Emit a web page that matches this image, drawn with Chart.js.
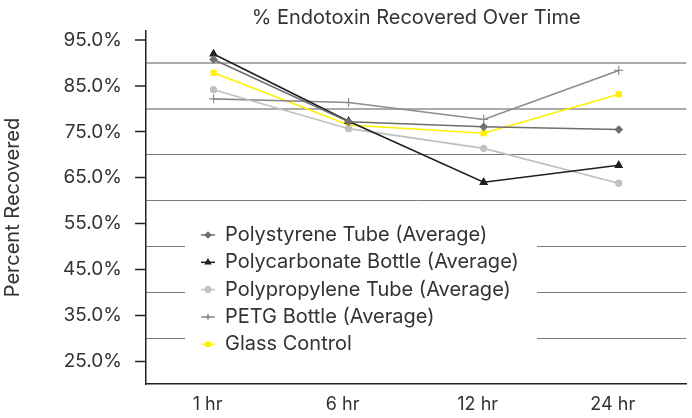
<!DOCTYPE html>
<html>
<head>
<meta charset="utf-8">
<script src="https://cdn.jsdelivr.net/npm/chart.js@4.4.1/dist/chart.umd.min.js"></script>
<style>
  html, body { margin: 0; padding: 0; background: #ffffff; }
  #wrap { width: 692px; height: 418px; }
</style>
</head>
<body>
<div id="wrap"><canvas id="c" width="692" height="418"></canvas></div>
<script>
const categories = ["1 hr", "6 hr", "12 hr", "24 hr"];
const polystyrene = [90.8, 77.2, 76.1, 75.5];
const polycarbonate = [92.0, 77.3, 64.0, 67.7];
const polypropylene = [84.2, 75.7, 71.4, 63.8];
const petg = [82.2, 81.4, 77.7, 88.4];
const glass = [87.9, 76.5, 74.7, 83.2];
const seriesNames = ["Polystyrene Tube (Average)", "Polycarbonate Bottle (Average)", "Polypropylene Tube (Average)", "PETG Bottle (Average)", "Glass Control"];
const labelTicks = [25, 35, 45, 55, 65, 75, 85, 95];
const gridTicks = [30, 40, 50, 60, 70, 80, 90];
const chartTitle = '% Endotoxin Recovered Over Time';

const FONT = "Inter";
const TXT = "#333333";

const titlePlugin = {
  id: 'areaTitle',
  afterDraw(chart) {
    const ctx = chart.ctx;
    const a = chart.chartArea;
    ctx.save();
    ctx.fillStyle = TXT;
    ctx.font = "20px " + FONT;
    ctx.textAlign = 'center';
    ctx.textBaseline = 'middle';
    ctx.fillText(chartTitle, (a.left + a.right) / 2, 18);
    ctx.restore();
  }
};

const legendPlugin = {
  id: 'insideLegend',
  afterDatasetsDraw(chart) {
    const ctx = chart.ctx;
    ctx.save();
    ctx.fillStyle = '#ffffff';
    ctx.fillRect(185, 224, 352, 138);
    chart.data.datasets.forEach((ds, i) => {
      const y = 235 + i * 27.3;
      ctx.strokeStyle = ds.borderColor;
      ctx.lineWidth = 1.5;
      ctx.beginPath();
      ctx.moveTo(201, y);
      ctx.lineTo(215, y);
      ctx.stroke();
      ctx.fillStyle = ds.borderColor;
      ctx.strokeStyle = ds.borderColor;
      Chart.helpers.drawPoint(ctx, {pointStyle: ds.pointStyle, radius: 2.8, borderWidth: 1}, 208, y);
      ctx.fillStyle = TXT;
      ctx.font = "20px " + FONT;
      ctx.textBaseline = 'middle';
      ctx.textAlign = 'left';
      ctx.fillText(ds.label, 225, y);
    });
    ctx.restore();
  }
};

const mk = (label, data, color, style, r) => ({
  label, data,
  borderColor: color, backgroundColor: color,
  pointBackgroundColor: color, pointBorderColor: color,
  pointStyle: style, pointRadius: r, pointBorderWidth: 1.2,
  borderWidth: 1.6, tension: 0
});

new Chart(document.getElementById('c'), {
  type: 'line',
  data: {
    labels: categories,
    datasets: [
      mk(seriesNames[0], polystyrene, '#6e6e6e', 'rectRot', 3.5),
      mk(seriesNames[1], polycarbonate, '#1e1e1e', 'triangle', 4),
      mk(seriesNames[2], polypropylene, '#c0c0c0', 'circle', 3),
      mk(seriesNames[3], petg, '#8c8c8c', 'cross', 4.5),
      mk(seriesNames[4], glass, '#fff000', 'rect', 3.5)
    ]
  },
  options: {
    responsive: false,
    animation: false,
    layout: { padding: { left: 0, right: 2, top: 31, bottom: 0 } },
    plugins: {
      legend: { display: false },
      tooltip: { enabled: false },
      title: { display: false }
    },
    scales: {
      x: {
        offset: true,
        grid: { display: false, drawTicks: false },
        border: { display: true, color: '#222', width: 1.5 },
        ticks: { color: TXT, font: { family: FONT, size: 18 }, padding: 10, labelOffset: -6 },
        afterFit(s) { s.height = 34; }
      },
      y: {
        min: 20, max: 97,
        afterBuildTicks(s) {
          s.ticks = [20].concat(labelTicks, gridTicks).sort((a, b) => a - b).map(v => ({ value: v }));
        },
        afterFit(s) { s.width = 146; },
        border: { display: true, color: '#222', width: 1.5 },
        grid: {
          drawOnChartArea: true,
          drawTicks: true,
          tickLength: 11,
          color: (c) => gridTicks.includes(c.tick && c.tick.value) ? (c.tick.value >= 80 ? '#ababab' : '#7a7a7a') : 'rgba(0,0,0,0)',
          lineWidth: (c) => (c.tick && c.tick.value >= 80) ? 2 : 1,
          tickColor: (c) => labelTicks.includes(c.tick && c.tick.value) ? '#222' : 'rgba(0,0,0,0)',
          tickWidth: 1.5
        },
        ticks: {
          color: TXT,
          font: { family: FONT, size: 19 },
          padding: 13,
          autoSkip: false,
          callback: (v) => labelTicks.includes(v) ? v.toFixed(1) + '%' : ''
        },
        title: {
          display: true,
          text: 'Percent Recovered',
          color: TXT,
          font: { family: FONT, size: 20 },
          padding: { top: 1, bottom: 0 }
        }
      }
    }
  },
  plugins: [legendPlugin, titlePlugin]
});
</script>
</body>
</html>
